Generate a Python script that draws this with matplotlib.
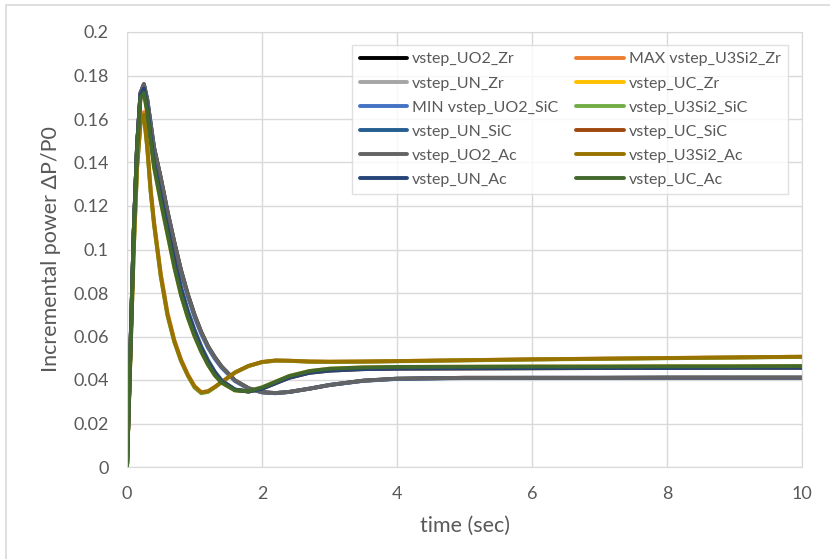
import matplotlib.pyplot as plt
from matplotlib.patches import Rectangle

# time axis (sec)
t = [0, 0.05, 0.1, 0.15, 0.2, 0.25, 0.3, 0.35, 0.4, 0.5, 0.6, 0.7, 0.8, 0.9,
     1.0, 1.1, 1.2, 1.3, 1.4, 1.6, 1.8, 2.0, 2.2, 2.4, 2.7, 3.0, 3.5, 4.0,
     5.0, 6.0, 7.0, 8.0, 9.0, 10.0]

# slow group (UO2)
uo2_ac = [0, 0.053, 0.108, 0.148, 0.172, 0.176, 0.169, 0.158, 0.147, 0.133, 0.1175, 0.1035, 0.0905, 0.0795,
          0.0700, 0.0620, 0.0555, 0.0505, 0.0462, 0.0398, 0.0362, 0.0344, 0.034, 0.0345, 0.036, 0.0377, 0.0397, 0.0406,
          0.041, 0.041, 0.041, 0.0411, 0.0411, 0.0411]
uo2_sic = [0, 0.053, 0.108, 0.148, 0.172, 0.1755, 0.168, 0.157, 0.146, 0.132, 0.1165, 0.1025, 0.0895, 0.0785,
           0.0690, 0.0612, 0.0548, 0.0498, 0.0457, 0.0395, 0.036, 0.0343, 0.0339, 0.0345, 0.036, 0.0377, 0.0396, 0.0405,
           0.0409, 0.041, 0.041, 0.041, 0.041, 0.041]

# middle group (UN / UC)
un_ac = [0, 0.053, 0.108, 0.148, 0.171, 0.174, 0.165, 0.152, 0.140, 0.125, 0.110, 0.095, 0.0815, 0.0708,
         0.0620, 0.0545, 0.0483, 0.0433, 0.0395, 0.0355, 0.0347, 0.036, 0.0385, 0.041, 0.0433, 0.0443, 0.045, 0.0452,
         0.0453, 0.0454, 0.0455, 0.0455, 0.0456, 0.0456]
un_sic = [0, 0.053, 0.108, 0.148, 0.171, 0.1745, 0.1655, 0.153, 0.141, 0.126, 0.111, 0.096, 0.0825, 0.0718,
          0.0630, 0.0553, 0.0490, 0.0438, 0.0398, 0.0356, 0.0347, 0.0362, 0.0387, 0.0412, 0.0435, 0.0446, 0.0452, 0.0455,
          0.0456, 0.0457, 0.0458, 0.0458, 0.0459, 0.0459]
uc_ac = [0, 0.053, 0.108, 0.147, 0.170, 0.172, 0.163, 0.150, 0.138, 0.122, 0.107, 0.092, 0.0790, 0.0688,
         0.0602, 0.0530, 0.0470, 0.0422, 0.0388, 0.0352, 0.0349, 0.0366, 0.0392, 0.0418, 0.0441, 0.0452, 0.0458, 0.046,
         0.0461, 0.0462, 0.0462, 0.0463, 0.0463, 0.0464]

# fast group (U3Si2)
u3si2_ac = [0, 0.050, 0.100, 0.138, 0.158, 0.162, 0.147, 0.127, 0.112, 0.088, 0.070, 0.058, 0.049, 0.0423,
            0.037, 0.0343, 0.0348, 0.0368, 0.039, 0.0435, 0.0465, 0.0483, 0.049, 0.0489, 0.0485, 0.0484, 0.0485, 0.0487,
            0.0491, 0.0495, 0.0498, 0.0501, 0.0504, 0.0507]
u3si2_zr = [0, 0.050, 0.101, 0.139, 0.159, 0.1632, 0.148, 0.128, 0.113, 0.089, 0.071, 0.0585, 0.0495, 0.0426,
            0.0372, 0.0344, 0.0348, 0.0367, 0.039, 0.0434, 0.0464, 0.0482, 0.0489, 0.0488, 0.0485, 0.0484, 0.0485, 0.0487,
            0.0491, 0.0495, 0.0498, 0.0501, 0.0504, 0.0507]
u3si2_sic = [0, 0.050, 0.100, 0.138, 0.158, 0.1618, 0.1465, 0.1265, 0.1115, 0.0875, 0.0695, 0.0575, 0.0487, 0.042,
             0.0365, 0.0339, 0.0345, 0.0366, 0.0389, 0.0434, 0.0464, 0.0482, 0.0489, 0.0488, 0.0484, 0.0483, 0.0484, 0.0486,
             0.049, 0.0494, 0.0497, 0.05, 0.0503, 0.0506]

# Excel plotting order (legend rows)
series = [
    ("vstep_UO2_Zr", uo2_ac, "#000000"),
    ("MAX vstep_U3Si2_Zr", u3si2_zr, "#ED7D31"),
    ("vstep_UN_Zr", un_sic, "#A5A5A5"),
    ("vstep_UC_Zr", uc_ac, "#FFC000"),
    ("MIN vstep_UO2_SiC", uo2_sic, "#4472C4"),
    ("vstep_U3Si2_SiC", u3si2_sic, "#70AD47"),
    ("vstep_UN_SiC", un_sic, "#255E91"),
    ("vstep_UC_SiC", un_ac, "#9E480E"),
    ("vstep_UO2_Ac", uo2_ac, "#636363"),
    ("vstep_U3Si2_Ac", u3si2_ac, "#997300"),
    ("vstep_UN_Ac", un_ac, "#264478"),
    ("vstep_UC_Ac", uc_ac, "#43682B"),
]

plt.rcParams['font.family'] = ['Lato', 'DejaVu Sans']

fig = plt.figure(figsize=(8.3, 5.59), dpi=100)
ax = fig.add_axes([127 / 830, 1 - 467 / 559, 675 / 830, 435 / 559])

# outer chart border
fig.patches.append(Rectangle((6 / 830, -0.02), 1.02, 1 - 5 / 559 + 0.02, transform=fig.transFigure,
                             fill=False, edgecolor='#D9D9D9', linewidth=1.2))

handles = {}
for name, vals, col in series:
    h, = ax.plot(t, vals, color=col, linewidth=2.8, solid_capstyle='round', label=name)
    handles[name] = h

ax.set_xlim(0, 10)
ax.set_ylim(0, 0.2)
ax.set_xticks(range(0, 11, 2))
ax.set_yticks([i * 0.02 for i in range(11)])
ax.set_yticklabels(["0", "0.02", "0.04", "0.06", "0.08", "0.1", "0.12", "0.14", "0.16", "0.18", "0.2"])
ax.grid(True, color='#D9D9D9', linewidth=1)
ax.set_axisbelow(True)
for s in ax.spines.values():
    s.set_color('#D9D9D9')
ax.tick_params(length=0, labelsize=13, labelcolor='#595959')
ax.tick_params(axis='y', pad=13)
ax.tick_params(axis='x', pad=14)

ax.set_xlabel("time (sec)", fontsize=15.5, color='#595959', labelpad=10)
ax.set_ylabel("Incremental power ΔP/P0", fontsize=15.5, color='#595959', labelpad=9)

# matplotlib fills legend columns first, so list column 1 then column 2
order = [s[0] for s in series[0::2]] + [s[0] for s in series[1::2]]
leg = ax.legend([handles[n] for n in order], order, ncol=2, loc='upper right',
                bbox_to_anchor=(0.979, 0.970), fontsize=11.5, frameon=True, fancybox=False,
                edgecolor='#D9D9D9', handlelength=3.0, handletextpad=0.3, labelspacing=0.62,
                columnspacing=1.1, borderpad=0.45, borderaxespad=0)
leg.get_frame().set_linewidth(1)
for txt in leg.get_texts():
    txt.set_color('#595959')

fig.savefig("out.png", dpi=100)
